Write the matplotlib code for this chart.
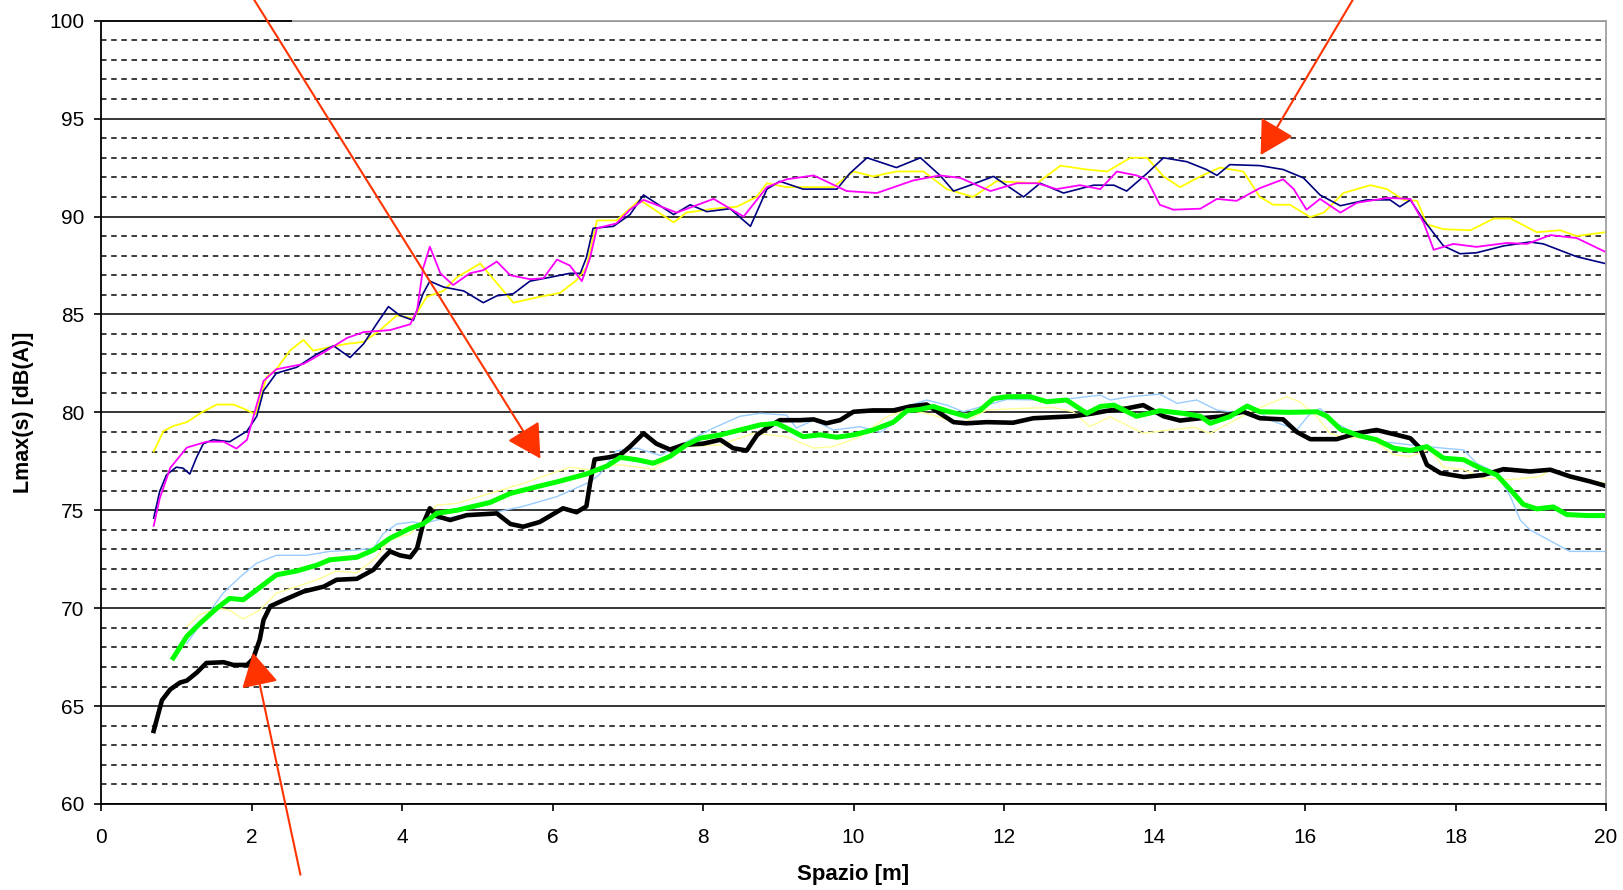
import matplotlib
matplotlib.use("Agg")
import matplotlib.pyplot as plt
from matplotlib.ticker import MultipleLocator

plt.rcParams['font.family'] = ['Liberation Sans', 'DejaVu Sans']

# --- upper group (thin lines) ---
x_yellow = [0.70, 0.83, 0.96, 1.14, 1.34, 1.54, 1.76, 1.89, 2.05, 2.11, 2.20, 2.33, 2.51, 2.69,
            2.82, 3.00, 3.27, 3.49, 3.71, 3.93, 4.15, 4.33, 4.55, 4.73, 5.04, 5.26, 5.48, 5.83,
            6.10, 6.32, 6.45, 6.59, 6.68, 6.85, 7.16, 7.61, 7.78, 8.14, 8.45, 8.71, 8.85, 9.11,
            9.56, 9.73, 10.00, 10.26, 10.57, 10.93, 11.24, 11.59, 11.90, 12.44, 12.75, 13.10,
            13.37, 13.68, 13.90, 14.12, 14.34, 14.61, 14.87, 15.18, 15.40, 15.58, 15.80, 16.07,
            16.25, 16.51, 16.87, 17.09, 17.31, 17.49, 17.62, 17.84, 18.20, 18.51, 18.73, 19.08,
            19.39, 19.61, 19.99]
y_yellow = [78.0, 79.04, 79.3, 79.5, 80.0, 80.4, 80.4, 80.2, 79.9, 80.6, 81.8, 82.2, 83.15, 83.7,
            83.15, 83.3, 83.5, 83.6, 84.2, 84.95, 84.8, 85.9, 86.2, 86.9, 87.6, 86.6, 85.6, 85.9,
            86.1, 86.75, 87.4, 89.8, 89.8, 89.8, 90.85, 89.7, 90.2, 90.4, 90.5, 91.0, 91.7, 91.5,
            91.5, 91.5, 92.3, 92.05, 92.3, 92.3, 91.4, 91.0, 91.8, 91.7, 92.6, 92.4,
            92.3, 93.0, 93.0, 92.05, 91.5, 92.05, 92.5, 92.3, 91.0, 90.6, 90.6, 89.97,
            90.2, 91.2, 91.6, 91.4, 90.85, 90.8, 89.6, 89.35, 89.3, 89.9, 89.9, 89.2,
            89.3, 89.0, 89.2]

x_navy = [0.70, 0.78, 0.87, 1.00, 1.09, 1.18, 1.27, 1.36, 1.49, 1.71, 1.94, 2.07, 2.16, 2.33,
          2.60, 2.87, 3.09, 3.31, 3.49, 3.66, 3.82, 3.97, 4.15, 4.28, 4.37, 4.55, 4.82, 5.08,
          5.26, 5.48, 5.70, 5.97, 6.23, 6.37, 6.45, 6.54, 6.81, 7.03, 7.21, 7.61, 7.83, 8.05,
          8.36, 8.63, 8.85, 9.02, 9.33, 9.78, 9.95, 10.18, 10.57, 10.89, 11.15, 11.33, 11.55,
          11.86, 12.26, 12.48, 12.79, 13.19, 13.46, 13.63, 13.90, 14.12, 14.43, 14.69, 14.83,
          15.00, 15.40, 15.71, 15.98, 16.20, 16.47, 16.82, 17.13, 17.26, 17.40, 17.58, 17.84,
          18.06, 18.28, 18.64, 18.99, 19.17, 19.61, 19.99]
y_navy = [74.6, 75.96, 76.8, 77.2, 77.15, 76.85, 77.7, 78.4, 78.6, 78.5, 79.04, 79.8, 81.1, 82.0,
          82.3, 82.98, 83.4, 82.8, 83.5, 84.5, 85.4, 84.95, 84.7, 86.06, 86.7, 86.4, 86.2, 85.6,
          85.95, 86.06, 86.7, 86.9, 87.1, 87.1, 87.9, 89.4, 89.5, 90.1, 91.1, 90.1, 90.6, 90.25,
          90.4, 89.5, 91.4, 91.8, 91.4, 91.4, 92.2, 93.0, 92.5, 93.0, 92.1, 91.3, 91.6,
          92.05, 91.0, 91.7, 91.2, 91.6, 91.6, 91.3, 92.2, 93.0, 92.8, 92.4, 92.1,
          92.65, 92.6, 92.4, 91.97, 91.1, 90.55, 90.85, 90.85, 90.5, 90.85, 89.8, 88.5,
          88.1, 88.15, 88.5, 88.7, 88.6, 87.95, 87.6]

x_magenta = [0.70, 0.78, 0.92, 1.14, 1.40, 1.63, 1.80, 1.94, 2.07, 2.16, 2.33, 2.69, 2.96, 3.27,
             3.49, 3.84, 4.11, 4.20, 4.28, 4.37, 4.51, 4.68, 4.90, 5.08, 5.26, 5.44, 5.70, 5.88,
             6.06, 6.23, 6.39, 6.50, 6.59, 6.85, 7.03, 7.21, 7.65, 8.14, 8.54, 8.85, 9.11, 9.47,
             9.91, 10.31, 10.80, 11.15, 11.42, 11.82, 12.17, 12.44, 12.70, 13.01, 13.28, 13.50,
             13.76, 13.90, 14.07, 14.25, 14.61, 14.83, 15.09, 15.40, 15.71, 15.85, 16.02, 16.20,
             16.47, 16.69, 17.09, 17.40, 17.58, 17.71, 17.97, 18.28, 18.68, 18.95, 19.26, 19.61,
             19.99]
y_magenta = [74.2, 75.6, 77.16, 78.2, 78.5, 78.5, 78.15, 78.6, 80.4, 81.6, 82.2, 82.47, 83.06, 83.8,
             84.1, 84.2, 84.5, 85.2, 87.35, 88.46, 87.1, 86.5, 87.1, 87.26, 87.7, 87.0, 86.8, 86.85,
             87.8, 87.5, 86.7, 87.9, 89.4, 89.65, 90.35, 90.85, 90.2, 90.9, 90.0, 91.5, 91.9, 92.1,
             91.3, 91.2, 91.85, 92.1, 91.97, 91.3, 91.7, 91.7, 91.4, 91.6, 91.4, 92.3,
             92.1, 91.9, 90.6, 90.35, 90.4, 90.9, 90.8, 91.45, 91.9, 91.4, 90.35, 90.9,
             90.2, 90.7, 90.95, 90.9, 89.65, 88.3, 88.6, 88.45, 88.65, 88.6, 89.05, 88.9,
             88.2]

# --- lower group ---
x_black = [0.70, 0.74, 0.81, 0.92, 1.05, 1.14, 1.27, 1.40, 1.63, 1.76, 1.94, 2.02, 2.11, 2.16,
           2.25, 2.42, 2.69, 2.96, 3.13, 3.40, 3.62, 3.75, 3.84, 3.97, 4.11, 4.20, 4.28, 4.37,
           4.46, 4.64, 4.86, 5.26, 5.44, 5.61, 5.83, 6.14, 6.32, 6.45, 6.50, 6.56, 6.74, 6.90,
           7.03, 7.21, 7.38, 7.56, 7.74, 8.00, 8.23, 8.40, 8.58, 8.72, 8.85, 9.02, 9.29, 9.47,
           9.64, 9.82, 10.00, 10.26, 10.53, 10.75, 10.97, 11.15, 11.33, 11.50, 11.77, 12.12,
           12.39, 12.65, 12.92, 13.19, 13.37, 13.63, 13.85, 14.12, 14.34, 14.61, 14.87, 15.18,
           15.40, 15.71, 15.89, 16.07, 16.42, 16.69, 16.95, 17.22, 17.40, 17.53, 17.62, 17.80,
           18.11, 18.37, 18.64, 18.99, 19.26, 19.52, 19.79, 19.99]
y_black = [63.73, 64.3, 65.3, 65.85, 66.2, 66.3, 66.7, 67.2, 67.24, 67.1, 67.1, 67.4, 68.4, 69.4,
           70.1, 70.4, 70.85, 71.1, 71.45, 71.5, 71.96, 72.55, 72.9, 72.7, 72.6, 73.06, 74.3, 75.1,
           74.7, 74.5, 74.75, 74.84, 74.3, 74.16, 74.4, 75.1, 74.9, 75.2, 76.4, 77.6, 77.7, 77.83,
           78.25, 78.93, 78.4, 78.1, 78.34, 78.4, 78.6, 78.17, 78.05, 78.85, 79.2, 79.6, 79.6, 79.64,
           79.44, 79.6, 80.03, 80.1, 80.1, 80.3, 80.4, 79.95, 79.5, 79.44, 79.5, 79.47,
           79.7, 79.75, 79.8, 79.95, 80.08, 80.2, 80.37, 79.8, 79.58, 79.7, 79.78, 80.03,
           79.7, 79.64, 79.0, 78.63, 78.63, 78.93, 79.1, 78.85, 78.68, 78.17, 77.32, 76.9,
           76.7, 76.8, 77.1, 76.98, 77.07, 76.73, 76.47, 76.25]

x_green = [0.96, 1.14, 1.32, 1.54, 1.71, 1.89, 2.07, 2.33, 2.60, 2.87, 3.04, 3.40, 3.62, 3.84,
           4.11, 4.28, 4.46, 4.73, 5.17, 5.44, 5.79, 6.06, 6.45, 6.73, 6.90, 7.12, 7.34, 7.56,
           7.78, 7.96, 8.23, 8.49, 8.76, 8.98, 9.16, 9.33, 9.56, 9.78, 10.00, 10.26, 10.53, 10.71,
           10.88, 11.06, 11.28, 11.50, 11.68, 11.86, 12.04, 12.35, 12.57, 12.83, 13.10, 13.28,
           13.46, 13.76, 14.07, 14.38, 14.61, 14.74, 15.00, 15.23, 15.40, 15.80, 16.16, 16.29,
           16.47, 16.73, 16.95, 17.18, 17.40, 17.62, 17.84, 18.11, 18.33, 18.55, 18.73, 18.90,
           19.08, 19.30, 19.48, 19.75, 19.99]
y_green = [67.46, 68.56, 69.24, 70.0, 70.5, 70.43, 70.94, 71.7, 71.9, 72.2, 72.47, 72.6, 72.97, 73.57,
           74.08, 74.3, 74.84, 75.0, 75.4, 75.86, 76.2, 76.45, 76.85, 77.27, 77.7, 77.58, 77.4, 77.75,
           78.34, 78.68, 78.85, 79.1, 79.36, 79.44, 79.1, 78.76, 78.85, 78.73, 78.85, 79.1, 79.5, 80.08,
           80.15, 80.3, 80.03, 79.8, 80.1, 80.7, 80.8, 80.8, 80.54, 80.63, 79.95, 80.3,
           80.37, 79.8, 80.08, 79.95, 79.8, 79.44, 79.78, 80.32, 80.03, 80.0, 80.03, 79.8,
           79.14, 78.8, 78.6, 78.17, 78.05, 78.25, 77.66, 77.58, 77.15, 76.8, 76.05, 75.3,
           75.07, 75.17, 74.78, 74.73, 74.73]

x_lightblue = [1.14, 1.36, 1.63, 1.85, 2.07, 2.33, 2.73, 3.04, 3.40, 3.62, 3.75, 3.93, 4.15, 4.28,
               4.46, 4.73, 5.17, 5.61, 6.06, 6.50, 6.63, 6.85, 7.12, 7.43, 7.78, 8.14, 8.49, 8.76,
               9.11, 9.24, 9.47, 9.73, 10.09, 10.35, 10.53, 10.71, 10.97, 11.24, 11.46, 11.77,
               12.04, 12.48, 12.88, 13.28, 13.41, 13.68, 14.07, 14.30, 14.56, 14.83, 15.09, 15.27,
               15.54, 15.89, 16.07, 16.20, 16.42, 16.69, 17.04, 17.40, 17.84, 18.11, 18.28, 18.55,
               18.73, 18.86, 18.99, 19.21, 19.52, 19.99]
y_lightblue = [68.2, 69.4, 70.8, 71.6, 72.3, 72.7, 72.7, 72.9, 72.97, 73.06, 73.8, 74.3, 74.4, 74.3,
               74.5, 74.7, 74.84, 75.2, 75.7, 76.45, 76.85, 78.04, 78.17, 77.8, 78.5, 79.2, 79.8, 79.95,
               79.86, 79.2, 79.6, 79.1, 79.27, 78.97, 79.44, 80.3, 80.63, 80.37, 80.03, 80.37,
               80.66, 80.63, 80.7, 80.88, 80.63, 80.8, 80.93, 80.46, 80.63, 80.12, 79.98, 80.37,
               79.6, 79.1, 79.95, 80.2, 79.44, 78.85, 78.5, 78.34, 78.17, 78.08, 77.4, 76.9,
               75.7, 74.5, 74.0, 73.54, 72.9, 72.9]

x_paleyellow = [1.14, 1.32, 1.54, 1.71, 1.89, 2.11, 2.33, 2.60, 2.87, 3.13, 3.40, 3.66, 3.84, 4.11,
                4.28, 4.46, 4.73, 5.17, 5.61, 6.23, 6.50, 6.73, 6.90, 7.34, 7.78, 8.23, 8.67, 9.11,
                9.47, 9.73, 10.09, 10.44, 10.71, 10.97, 11.24, 11.46, 11.77, 12.21, 12.65, 12.92,
                13.14, 13.37, 13.41, 13.85, 14.20, 14.52, 14.74, 15.09, 15.27, 15.54, 15.76, 15.93,
                16.16, 16.33, 16.51, 16.87, 17.18, 17.40, 17.66, 17.84, 18.11, 18.37, 18.73, 19.13,
                19.26, 19.52, 19.99]
y_paleyellow = [69.07, 69.67, 70.0, 69.9, 69.45, 69.9, 70.77, 71.1, 71.45, 71.9, 71.8, 72.6, 73.5, 73.8,
                74.5, 75.26, 75.35, 75.86, 76.37, 77.2, 77.05, 77.27, 77.32, 77.1, 78.25, 78.34, 78.93, 78.76,
                78.17, 78.25, 78.76, 79.78, 80.12, 79.95, 79.64, 79.47, 80.12, 80.2, 80.25, 80.03,
                79.27, 79.7, 79.78, 78.93, 79.1, 79.24, 78.93, 79.64, 80.03, 80.46, 80.8, 80.54,
                79.78, 78.93, 78.73, 78.68, 77.83, 77.75, 78.12, 77.2, 77.07, 76.64, 76.56, 76.73,
                77.07, 76.64, 76.39]

# arrow (tail, head) in data units
arrows = [((2.03, 101.1), (5.84, 77.64)),
          ((16.64, 101.1), (15.41, 93.14)),
          ((2.65, 56.39), (2.02, 67.72))]

fig = plt.figure(figsize=(16.23, 8.90), dpi=100)
ax = fig.add_axes([101 / 1623, 1 - 804 / 890, 1505 / 1623, 783.3 / 890])

ax.set_xlim(0, 20)
ax.set_ylim(60, 100)
ax.xaxis.set_major_locator(MultipleLocator(2))
ax.yaxis.set_major_locator(MultipleLocator(5))
ax.yaxis.set_minor_locator(MultipleLocator(1))

ax.set_axisbelow(True)
ax.grid(True, axis='y', which='major', color='black', linewidth=1.1, linestyle='-')
ax.grid(True, axis='y', which='minor', color='#1a1a1a', linewidth=1.2,
        linestyle=(0, (3.3, 2.8)))

ax.plot(x_lightblue, y_lightblue, color='#99CCFF', linewidth=1.0)
ax.plot(x_paleyellow, y_paleyellow, color='#FFFF99', linewidth=1.0)
ax.plot(x_black, y_black, color='black', linewidth=3.3)
ax.plot(x_green, y_green, color='#00FF00', linewidth=3.6)
ax.plot(x_yellow, y_yellow, color='#FFFF00', linewidth=1.3)
ax.plot(x_navy, y_navy, color='#000080', linewidth=1.2)
ax.plot(x_magenta, y_magenta, color='#FF00FF', linewidth=1.3)

for spine in ['left', 'bottom']:
    ax.spines[spine].set_color('black')
    ax.spines[spine].set_linewidth(1.3)
for spine in ['top', 'right']:
    ax.spines[spine].set_color('#A0A0A0')
    ax.spines[spine].set_linewidth(1.3)
ax.axhline(100, xmin=0, xmax=0.126, color='black', linewidth=1.3, clip_on=False, zorder=3)

ax.tick_params(axis='both', which='major', direction='out', length=5, width=1.2,
               color='black', labelsize=15)
ax.tick_params(axis='y', which='major', pad=7)
ax.tick_params(axis='x', which='major', pad=12)
ax.tick_params(axis='y', which='minor', length=0)

ax.set_xlabel('Spazio [m]', fontsize=16, fontweight='bold', va='center')
ax.xaxis.set_label_coords(0.5, -0.0906)
ax.set_ylabel('Lmax(s) [dB(A)]', fontsize=15.5, fontweight='bold', va='center')
ax.yaxis.set_label_coords(-0.0518, 0.5)

for tail, head in arrows:
    ax.annotate('', xy=head, xytext=tail, annotation_clip=False,
                arrowprops=dict(arrowstyle='-|>,head_length=1.05,head_width=0.58',
                                mutation_scale=20, color='#FF3300', linewidth=1.5,
                                shrinkA=0, shrinkB=0))

fig.savefig('out.png', dpi=100)
